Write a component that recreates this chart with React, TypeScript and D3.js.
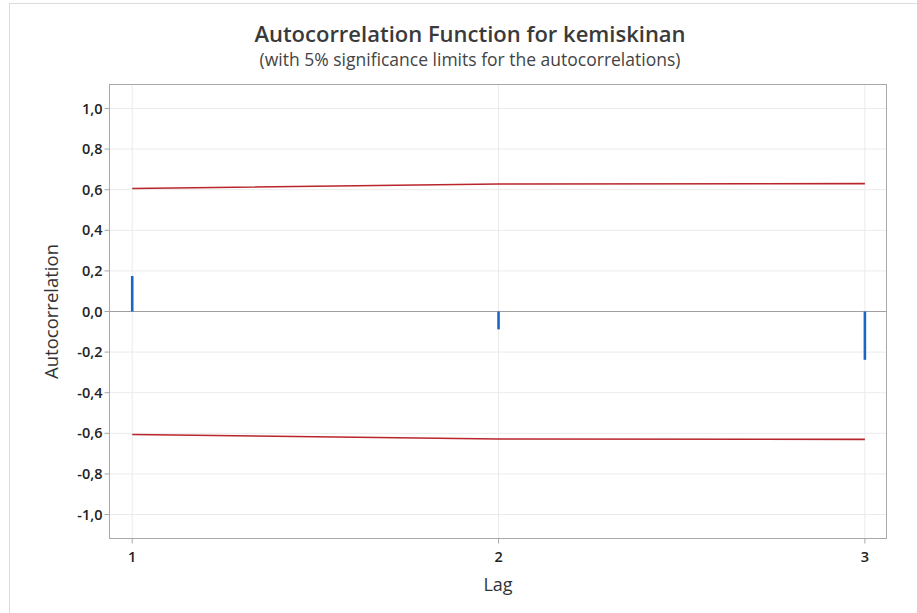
import React from "react";
import * as d3 from "d3";

const lags = [1, 2, 3];
const acf = [0.175, -0.088, -0.238];
const upperLimit = [0.606, 0.628, 0.63];
const lowerLimit = [-0.606, -0.628, -0.63];
const yTicks = [1.0, 0.8, 0.6, 0.4, 0.2, 0.0, -0.2, -0.4, -0.6, -0.8, -1.0];
const xTicks = [1, 2, 3];

const W = 917;
const H = 613;
const M = { left: 109.5, right: 886.5, top: 84.5, bottom: 538.5 };

export default function App() {
  const x = d3.scaleLinear().domain([0.938, 3.059]).range([M.left, M.right]);
  const y = d3.scaleLinear().domain([-1.118, 1.118]).range([M.bottom, M.top]);
  const fmt = (v: number) => v.toFixed(1).replace(".", ",");
  const lineGen = d3
    .line<number>()
    .x((_, i) => x(lags[i]))
    .y((d) => y(d));
  const font = "'Open Sans', 'Noto Sans', sans-serif";
  const tx = 470;
  const cx = (M.left + M.right) / 2;
  return (
    <svg
      width={W}
      height={H}
      style={{ position: "absolute", left: 0, top: 0 }}
      fontFamily={font}
    >
      <rect x={0} y={0} width={W} height={H} fill="#fff" />
      <rect x={9.5} y={3.5} width={W + 20} height={H + 20} fill="none" stroke="#dcdcdc" />
      <text x={tx} y={42} textAnchor="middle" fontSize={22} fontWeight={600} fill="#3a3a3a">
        Autocorrelation Function for kemiskinan
      </text>
      <text x={tx} y={66} textAnchor="middle" fontSize={17.5} fill="#444">
        (with 5% significance limits for the autocorrelations)
      </text>
      {/* gridlines */}
      {yTicks.map((t) => (
        <line key={"gy" + t} x1={M.left} x2={M.right} y1={y(t)} y2={y(t)} stroke="#ebebeb" strokeWidth={1} />
      ))}
      {xTicks.map((t) => (
        <line key={"gx" + t} x1={x(t)} x2={x(t)} y1={M.top} y2={M.bottom} stroke="#ebebeb" strokeWidth={1} />
      ))}
      {/* zero line */}
      <line x1={M.left} x2={M.right} y1={y(0)} y2={y(0)} stroke="#a0a0a0" strokeWidth={1} />
      {/* limits */}
      <path d={lineGen(upperLimit) || ""} fill="none" stroke="#b8262b" strokeWidth={1.6} />
      <path d={lineGen(lowerLimit) || ""} fill="none" stroke="#b8262b" strokeWidth={1.6} />
      {/* acf bars */}
      {acf.map((v, i) => (
        <line key={"b" + i} x1={x(lags[i])} x2={x(lags[i])} y1={y(0)} y2={y(v)} stroke="#1a66c2" strokeWidth={2.6} />
      ))}
      {/* frame */}
      <rect x={M.left} y={M.top} width={M.right - M.left} height={M.bottom - M.top} fill="none" stroke="#a8a8a8" strokeWidth={1} />
      {/* y ticks */}
      {yTicks.map((t) => (
        <g key={"ty" + t}>
          <line x1={M.left - 5} x2={M.left} y1={y(t)} y2={y(t)} stroke="#a8a8a8" />
          <text x={M.left - 7} y={y(t)} dy="0.35em" textAnchor="end" fontSize={14.5} fontWeight={600} fill="#222">
            {fmt(t)}
          </text>
        </g>
      ))}
      {/* x ticks */}
      {xTicks.map((t) => (
        <g key={"tx" + t}>
          <line x1={x(t)} x2={x(t)} y1={M.bottom} y2={M.bottom + 5} stroke="#a8a8a8" />
          <text x={x(t)} y={M.bottom + 23} textAnchor="middle" fontSize={14.5} fontWeight={600} fill="#222">
            {t}
          </text>
        </g>
      ))}
      <text x={cx} y={591} textAnchor="middle" fontSize={18} fill="#333">
        Lag
      </text>
      <text
        transform={`translate(${58},${y(0)}) rotate(-90)`}
        textAnchor="middle"
        fontSize={18.5}
        fill="#333"
      >
        Autocorrelation
      </text>
    </svg>
  );
}
